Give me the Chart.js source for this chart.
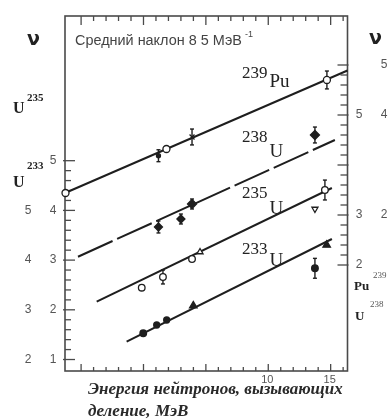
<!DOCTYPE html>
<html><head><meta charset="utf-8">
<script src="https://cdn.jsdelivr.net/npm/chart.js@4"></script>
<style>html,body{margin:0;padding:0;background:#fff;}canvas{display:block;}</style>
</head><body>
<canvas id="c" width="392" height="419"></canvas>
<script>
// Neutron energy E (MeV) and plotted nu on the shifted common scale (left inner axis units)
const pu239E   = [-6.25, 1.20, 1.84, 3.89, 14.70];
const pu239V   = [4.35, 5.10, 5.235, 5.477, 6.624];
const pu239Err = [0, 0.12, 0, 0.16, 0.18];
const pu239LineE = [-6.29, 16.35];
const pu239LineV = [4.35, 6.815];

const u238E   = [1.20, 3.00, 3.89, 13.74];
const u238V   = [3.666, 3.827, 4.129, 5.517];
const u238Err = [0.12, 0.10, 0.10, 0.16];
const u238LineE = [-5.25, 15.34];
const u238LineV = [3.068, 5.416];

const u235E   = [-0.14, 1.56, 3.89, 4.53, 13.74, 14.54];
const u235V   = [2.445, 2.660, 3.022, 3.163, 4.028, 4.410];
const u235Err = [0, 0.14, 0, 0, 0, 0.20];
const u235LineE = [-3.75, 15.10];
const u235LineV = [2.163, 4.451];

const u233E   = [-0.02, 1.06, 1.86, 3.99, 14.68, 13.74];
const u233V   = [1.527, 1.694, 1.795, 2.082, 3.304, 2.835];
const u233Err = [0, 0, 0, 0, 0, 0.20];
const u233LineE = [-1.35, 15.10];
const u233LineV = [1.358, 3.425];

// axis ticks and labels
const xTickVals = [-5,-4,-3,-2,-1,0,1,2,3,4,5,6,7,8,9,10,11,12,13,14,15,16];
const xLabelVals = [10, 15];
const xLabels = ['10', '15'];
const leftInnerVals = [1, 2, 3, 4, 5];
const leftInnerLabels = ['1', '2', '3', '4', '5'];
const leftOuterVals = [1, 2, 3, 4];
const leftOuterLabels = ['2', '3', '4', '5'];
const rightInnerVals = [5, 3, 2];
const rightInnerLabels = ['5', '3', '2'];
const rightOuterVals = [6, 5, 3];
const rightOuterLabels = ['5', '4', '2'];

const DARK = '#1e1e1e';
const pts = (E, V) => E.map((e, i) => ({x: e, y: V[i]}));

function lineDs(E, V, dash) {
  return {type: 'line', data: pts(E, V), borderColor: DARK, borderWidth: 2, pointRadius: 0,
          borderDash: dash || [], fill: false, clip: false, order: 2};
}
function ptDs(E, V, errs, styles, fills, radii, rot) {
  return {type: 'scatter', data: pts(E, V), errs: errs, pointStyle: styles,
          backgroundColor: fills, borderColor: DARK, borderWidth: 1.3, pointRadius: radii,
          rotation: rot || 0, clip: false, order: 1};
}

const W = '#ffffff';
const datasets = [
  lineDs(pu239LineE, pu239LineV),
  lineDs(u238LineE, u238LineV, [38, 5]),
  lineDs(u235LineE, u235LineV),
  lineDs(u233LineE, u233LineV),
  ptDs(pu239E, pu239V, pu239Err, ['circle','circle','circle','crossRot','circle'], [W, DARK, W, W, W], [3.5, 2, 3.5, 3.5, 3.5]),
  ptDs(u238E, u238V, u238Err, ['rectRot','rectRot','rectRot','rectRot'], [DARK, DARK, DARK, DARK], [4, 4, 4.5, 4.5]),
  ptDs(u235E, u235V, u235Err, ['circle','circle','circle','triangle','triangle','circle'], [W, W, W, W, W, W], [3.3, 3.3, 3.3, 3.5, 3.5, 3.3], [0, 0, 0, 0, 180, 0]),
  ptDs(u233E, u233V, u233Err, ['circle','circle','circle','triangle','triangle','circle'], [DARK, DARK, DARK, DARK, DARK, DARK], [3.3, 3, 3, 4.3, 4.3, 3.3])
];

function line(ctx, x1, y1, x2, y2) { ctx.beginPath(); ctx.moveTo(x1, y1); ctx.lineTo(x2, y2); ctx.stroke(); }
function fitSize(ctx, text, style, family, width) {
  ctx.font = style + ' 100px ' + family;
  return 100 * width / ctx.measureText(text).width;
}

const deco = {
  id: 'deco',
  beforeDatasetsDraw(chart) {
    const {ctx, chartArea: a, scales: {x, y, yR}} = chart;
    ctx.save();
    ctx.strokeStyle = '#4a4a4a';
    ctx.lineWidth = 1.6;
    ctx.strokeRect(a.left, a.top, a.right - a.left, a.bottom - a.top);
    ctx.lineWidth = 1.3;
    xTickVals.forEach(e => {
      const px = x.getPixelForValue(e), maj = e % 5 === 0;
      line(ctx, px, a.bottom, px, a.bottom - (maj ? 7 : 4));
      line(ctx, px, a.top, px, a.top + (maj ? 9 : 5));
    });
    for (let k = 0; k <= 20; k++) {
      const v = 1 + k * 0.2, py = y.getPixelForValue(v), maj = k % 5 === 0;
      line(ctx, a.left - (maj ? 2 : 0), py, a.left + (maj ? 10 : 6), py);
    }
    for (let k = 0; k <= 20; k++) {
      const v = 2 + k * 0.2, py = yR.getPixelForValue(v), maj = k % 5 === 0;
      line(ctx, a.right - (maj ? 10 : 7), py, a.right + (maj ? 1 : 0), py);
    }
    // error bars
    ctx.strokeStyle = DARK;
    ctx.lineWidth = 1.4;
    chart.data.datasets.forEach(ds => {
      if (!ds.errs) return;
      ds.data.forEach((p, j) => {
        const err = ds.errs[j];
        if (!err) return;
        const px = x.getPixelForValue(p.x);
        const y1 = y.getPixelForValue(p.y - err), y2 = y.getPixelForValue(p.y + err);
        line(ctx, px, y1, px, y2);
        line(ctx, px - 2, y1, px + 2, y1);
        line(ctx, px - 2, y2, px + 2, y2);
      });
    });
    ctx.restore();
  },
  afterDraw(chart) {
    const {ctx, chartArea: a, scales: {x, y, yR}} = chart;
    ctx.save();
    ctx.textBaseline = 'middle';
    ctx.textAlign = 'center';
    ctx.fillStyle = '#555';
    ctx.font = '12px "Liberation Sans"';
    leftInnerVals.forEach((v, i) => ctx.fillText(leftInnerLabels[i], 53, y.getPixelForValue(v)));
    leftOuterVals.forEach((v, i) => ctx.fillText(leftOuterLabels[i], 28, y.getPixelForValue(v)));
    rightInnerVals.forEach((v, i) => ctx.fillText(rightInnerLabels[i], 359, yR.getPixelForValue(v)));
    rightOuterVals.forEach((v, i) => ctx.fillText(rightOuterLabels[i], 384, yR.getPixelForValue(v)));
    ctx.font = '11px "Liberation Sans"';
    xLabelVals.forEach((v, i) => ctx.fillText(xLabels[i], x.getPixelForValue(v) - 1, a.bottom + 9));

    ctx.textAlign = 'left';
    ctx.textBaseline = 'alphabetic';
    ctx.fillStyle = '#222';
    // nu symbols
    ctx.font = 'bold 19px "DejaVu Sans"';
    ctx.fillText('\u03BD', 27, 45);
    ctx.fillText('\u03BD', 369, 44);
    // left isotope axis labels
    ctx.font = 'bold 16px "Liberation Serif"';
    ctx.fillText('U', 13, 113);
    ctx.fillText('U', 13, 187);
    ctx.font = 'bold 11px "Liberation Serif"';
    ctx.fillText('235', 27, 101);
    ctx.fillText('233', 27, 169);
    // right isotope axis labels
    ctx.font = 'bold 13px "Liberation Serif"';
    ctx.fillText('Pu', 354, 290);
    ctx.fillText('U', 355, 320);
    ctx.font = '9px "Liberation Serif"';
    ctx.fillStyle = '#555';
    ctx.fillText('239', 373, 278);
    ctx.fillText('238', 370, 307);

    // curve labels
    ctx.fillStyle = '#222';
    const lab = (num, sym, xx, yNum, ySym) => {
      ctx.font = '17px "Liberation Serif"';
      ctx.fillText(num, xx, yNum);
      const w = ctx.measureText(num).width;
      ctx.font = '19px "Liberation Serif"';
      ctx.fillText(sym, xx + w + 2, ySym);
    };
    lab('239', 'Pu', 242, 78, 87);
    lab('238', 'U', 242, 142, 157);
    lab('235', 'U', 242, 198, 214);
    lab('233', 'U', 242, 254, 266);

    // slope note
    ctx.fillStyle = '#444';
    const note = 'Средний наклон 8 5 МэВ';
    const s = fitSize(ctx, note, '', '"Liberation Sans"', 167);
    ctx.font = s.toFixed(2) + 'px "Liberation Sans"';
    ctx.fillText(note, 75, 45);
    ctx.font = '9px "Liberation Sans"';
    ctx.fillText('-1', 245, 37);

    // x axis title
    ctx.fillStyle = '#2a2a2a';
    const t1 = 'Энергия нейтронов, вызывающих';
    const s1 = fitSize(ctx, t1, 'italic bold', '"Liberation Serif"', 255);
    ctx.font = 'italic bold ' + s1.toFixed(2) + 'px "Liberation Serif"';
    ctx.fillText(t1, 88, 394);
    ctx.fillText('деление, МэВ', 88, 416);
    ctx.restore();
  }
};

new Chart(document.getElementById('c'), {
  data: {datasets: datasets},
  options: {
    responsive: false,
    animation: false,
    layout: {padding: {left: 65, right: 44.5, top: 16, bottom: 48}},
    plugins: {legend: {display: false}, tooltip: {enabled: false}, title: {display: false}},
    scales: {
      x: {type: 'linear', min: -6.29, max: 16.35, display: false},
      y: {type: 'linear', min: 0.769, max: 7.911, display: false},
      yR: {type: 'linear', position: 'right', min: -0.12, max: 6.98, display: false}
    }
  },
  plugins: [deco]
});
</script>
</body></html>
